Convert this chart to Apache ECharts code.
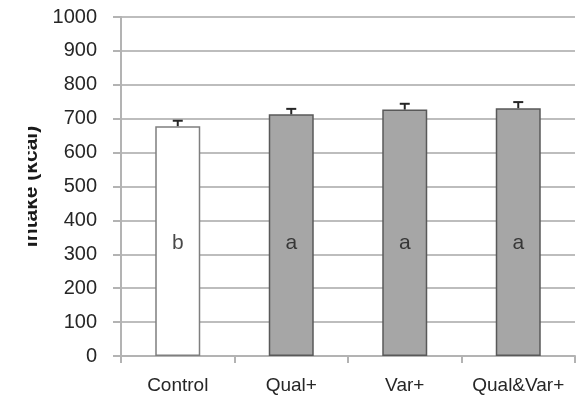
<!DOCTYPE html>
<html>
<head>
<meta charset="utf-8">
<script src="https://cdn.jsdelivr.net/npm/echarts@6/dist/echarts.min.js"></script>
<style>
html,body{margin:0;padding:0;background:#fff;}
#chart{width:578px;height:402px;}
</style>
</head>
<body>
<div id="chart"></div>
<script>
var categories = ['Control', 'Qual+', 'Var+', 'Qual&Var+'];
var intake = [678, 713, 727, 731];
var errors = [16, 16, 17, 18];
var groupLetters = ['b', 'a', 'a', 'a'];
var letterLevel = [333, 333, 333, 333];
var yTicks = [0, 100, 200, 300, 400, 500, 600, 700, 800, 900, 1000];
var yName = 'Intake (kcal)';

var barColors = ['#ffffff', '#a6a6a6', '#a6a6a6', '#a6a6a6'];
var borderColors = ['#7f7f7f', '#595959', '#595959', '#595959'];

var chart = echarts.init(document.getElementById('chart'));
var font = '"Liberation Sans", Arial, sans-serif';

chart.setOption({
  animation: false,
  backgroundColor: '#ffffff',
  grid: {left: 121, right: 3, top: 17, bottom: 46, containLabel: false},
  xAxis: {
    type: 'category',
    data: categories,
    axisLine: {lineStyle: {color: '#b3b3b3', width: 2}},
    axisTick: {show: true, length: 7, alignWithLabel: false, lineStyle: {color: '#b3b3b3', width: 2}},
    axisLabel: {color: '#262626', fontFamily: font, fontSize: 19, margin: 20, interval: 0}
  },
  yAxis: {
    type: 'value',
    min: yTicks[0],
    max: yTicks[yTicks.length - 1],
    interval: yTicks[1] - yTicks[0],
    name: yName,
    nameLocation: 'middle',
    nameRotate: 90,
    nameGap: 70,
    nameTextStyle: {color: '#1a1a1a', fontFamily: font, fontSize: 21, fontWeight: 'bold'},
    axisLine: {show: true, lineStyle: {color: '#b3b3b3', width: 2}},
    axisTick: {show: true, inside: false, length: 8, lineStyle: {color: '#b3b3b3', width: 2}},
    axisLabel: {color: '#262626', fontFamily: font, fontSize: 20, margin: 24,
                formatter: function (v) { return String(v); }},
    splitLine: {show: true, lineStyle: {color: '#bdbdbd', width: 2}}
  },
  graphic: [{
    type: 'rect', left: 0, top: 0, z: 100,
    shape: {x: 0, y: 0, width: 28, height: 402},
    style: {fill: '#ffffff'}
  }],
  series: [{
    type: 'bar',
    barWidth: 45,
    data: intake.map(function (v, i) {
      return {
        value: v,
        itemStyle: {color: barColors[i], borderColor: borderColors[i], borderWidth: 1.5}
      };
    }),
    z: 2
  }, {
    type: 'scatter',
    symbolSize: 2,
    itemStyle: {color: 'rgba(0,0,0,0)'},
    z: 4,
    label: {show: true, position: 'inside', color: '#1a1a1a', fontFamily: font, fontSize: 21,
            formatter: function (p) { return groupLetters[p.dataIndex]; }},
    data: letterLevel.map(function (v, i) { return [i, v]; })
  }, {
    type: 'custom',
    z: 5,
    data: intake.map(function (v, i) { return [i, v, v + errors[i]]; }),
    renderItem: function (params, api) {
      var base = api.coord([api.value(0), api.value(1)]);
      var top = api.coord([api.value(0), api.value(2)]);
      var half = 5;
      var st = {stroke: '#262626', lineWidth: 2, fill: null};
      return {
        type: 'group',
        children: [
          {type: 'line', shape: {x1: base[0], y1: base[1], x2: top[0], y2: top[1]}, style: st},
          {type: 'line', shape: {x1: top[0] - half, y1: top[1], x2: top[0] + half, y2: top[1]}, style: st}
        ]
      };
    }
  }]
});
</script>
</body>
</html>
